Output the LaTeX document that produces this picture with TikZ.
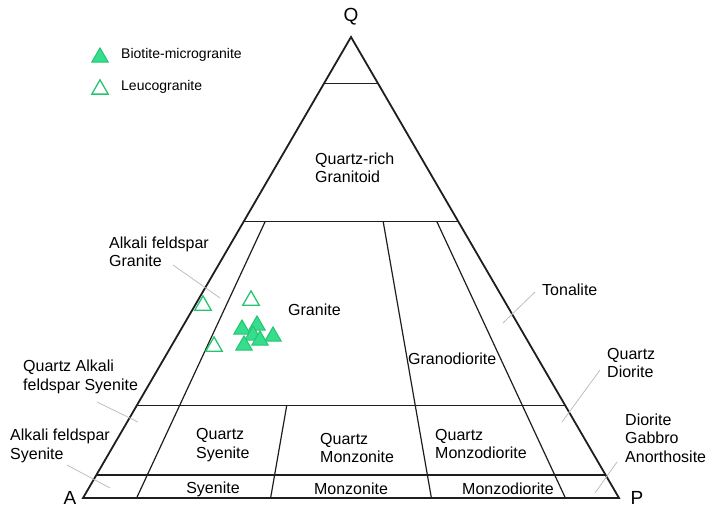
\documentclass[tikz,border=0pt]{standalone}
\usepackage{fontspec}
\setmainfont{Liberation Sans}
\usetikzlibrary{calc,shapes.geometric}
\definecolor{ptfill}{RGB}{52,222,140}
\definecolor{ptedge}{RGB}{38,196,112}
\definecolor{leadgrey}{RGB}{190,190,190}
\definecolor{linegrey}{RGB}{30,30,30}
\tikzset{
  outer/.style={line width=1.8pt,draw=linegrey,line join=miter},
  inner/.style={line width=1.2pt,draw=linegrey},
  leader/.style={line width=0.8pt,draw=leadgrey},
  lab/.style={inner sep=0pt,align=left,anchor=west,font=\fontsize{16}{18.5}\selectfont},
  labc/.style={inner sep=0pt,align=center,font=\fontsize{16}{18.5}\selectfont},
  corner/.style={inner sep=0pt,font=\fontsize{19}{22}\selectfont},
  legtxt/.style={inner sep=0pt,anchor=west,font=\fontsize{14}{17}\selectfont},
  filledtri/.style={regular polygon,regular polygon sides=3,minimum size=19pt,inner sep=0pt,fill=ptfill,draw=ptedge,line width=1pt,yshift=-2.4pt},
  hollowtri/.style={regular polygon,regular polygon sides=3,minimum size=19pt,inner sep=0pt,fill=white,draw=ptedge,line width=1.3pt,yshift=-2.4pt}
}
\begin{document}
\begin{tikzpicture}[x=1pt,y=-1pt]
\useasboundingbox (0,0) rectangle (707,508);
% corners
\coordinate (A) at (83,498);
\coordinate (P) at (619,498);
\coordinate (Q) at (351,37);
% level lines
\coordinate (L90) at ($(A)!0.9!(Q)$);
\coordinate (R90) at ($(P)!0.9!(Q)$);
\coordinate (L60) at ($(A)!0.6!(Q)$);
\coordinate (R60) at ($(P)!0.6!(Q)$);
\coordinate (L20) at ($(A)!0.2!(Q)$);
\coordinate (R20) at ($(P)!0.2!(Q)$);
\coordinate (L05) at ($(A)!0.05!(Q)$);
\coordinate (R05) at ($(P)!0.05!(Q)$);
% radial lines
\coordinate (p10t) at ($(L60)!0.1!(R60)$);
\coordinate (p10b) at ($(A)!0.1!(P)$);
\coordinate (p35t) at ($(L20)!0.35!(R20)$);
\coordinate (p35b) at ($(A)!0.35!(P)$);
\coordinate (p65t) at ($(L60)!0.65!(R60)$);
\coordinate (p65b) at ($(A)!0.65!(P)$);
\coordinate (p90t) at ($(L60)!0.9!(R60)$);
\coordinate (p90b) at ($(A)!0.9!(P)$);

\draw[inner] (L90) -- (R90);
\draw[inner] (L60) -- (R60);
\draw[inner] (L20) -- (R20);
\draw[inner] (L05) -- (R05);
\draw[inner] (p10t) -- (p10b);
\draw[inner] (p35t) -- (p35b);
\draw[inner] (p65t) -- (p65b);
\draw[inner] (p90t) -- (p90b);
\draw[outer] (A) -- (P) -- (Q) -- cycle;

% corner labels
\node[corner] (lQ) at (351,17) {Q};
\node[corner] (lA) at (70,498) {A};
\node[corner] (lP) at (637,498) {P};

% field labels
\node[lab] (qrg) at (315,168) {Quartz-rich\\Granitoid};
\node[lab] (gra) at (288,310) {Granite};
\node[lab] (afg) at (109,252) {Alkali feldspar\\Granite};
\node[lab] (ton) at (542,290) {Tonalite};
\node[lab] (grd) at (408,359) {Granodiorite};
\node[lab] (qafs) at (23,377) {Quartz Alkali\\feldspar Syenite};
\node[lab] (qdi) at (607,363) {Quartz\\Diorite};
\node[lab] (afs) at (10,446) {Alkali feldspar\\Syenite};
\node[lab] (qsy) at (196,445) {Quartz\\Syenite};
\node[lab] (qmz) at (320,448) {Quartz\\Monzonite};
\node[lab] (qmd) at (435,444) {Quartz\\Monzodiorite};
\node[lab] (dga) at (625,438) {Diorite\\Gabbro\\Anorthosite};
\node[labc] (sye) at (213,489) {Syenite};
\node[labc] (mzn) at (351,489) {Monzonite};
\node[labc] (mzd) at (508,489) {Monzodiorite};

% leaders
\coordinate (afgA) at (173,265); \coordinate (afgB) at (220,298);
\coordinate (tonA) at (535,292); \coordinate (tonB) at (503,323);
\coordinate (qdiA) at (600,370); \coordinate (qdiB) at (562,422);
\coordinate (dgaA) at (617,462); \coordinate (dgaB) at (595,493);
\coordinate (qafsA) at (97,402); \coordinate (qafsB) at (138,422);
\coordinate (afsA) at (67,465); \coordinate (afsB) at (110,488);
\draw[leader] (afgA) -- (afgB);
\draw[leader] (tonA) -- (tonB);
\draw[leader] (qdiA) -- (qdiB);
\draw[leader] (dgaA) -- (dgaB);
\draw[leader] (qafsA) -- (qafsB);
\draw[leader] (afsA) -- (afsB);

% legend
\node[filledtri] (legF) at (100,55) {};
\node[legtxt] (legFt) at (121,55) {Biotite-microgranite};
\node[hollowtri] (legH) at (100,87) {};
\node[legtxt] (legHt) at (121,87) {Leucogranite};

% data
\node[hollowtri] (h1) at (203,303) {};
\node[hollowtri] (h2) at (251,298) {};
\node[hollowtri] (h3) at (214,344) {};
\node[filledtri] (f1) at (242,327) {};
\node[filledtri] (f2) at (257,323) {};
\node[filledtri] (f3) at (253,333) {};
\node[filledtri] (f4) at (273,334) {};
\node[filledtri] (f5) at (260,338) {};
\node[filledtri] (f6) at (244,343) {};
\end{tikzpicture}
\end{document}
